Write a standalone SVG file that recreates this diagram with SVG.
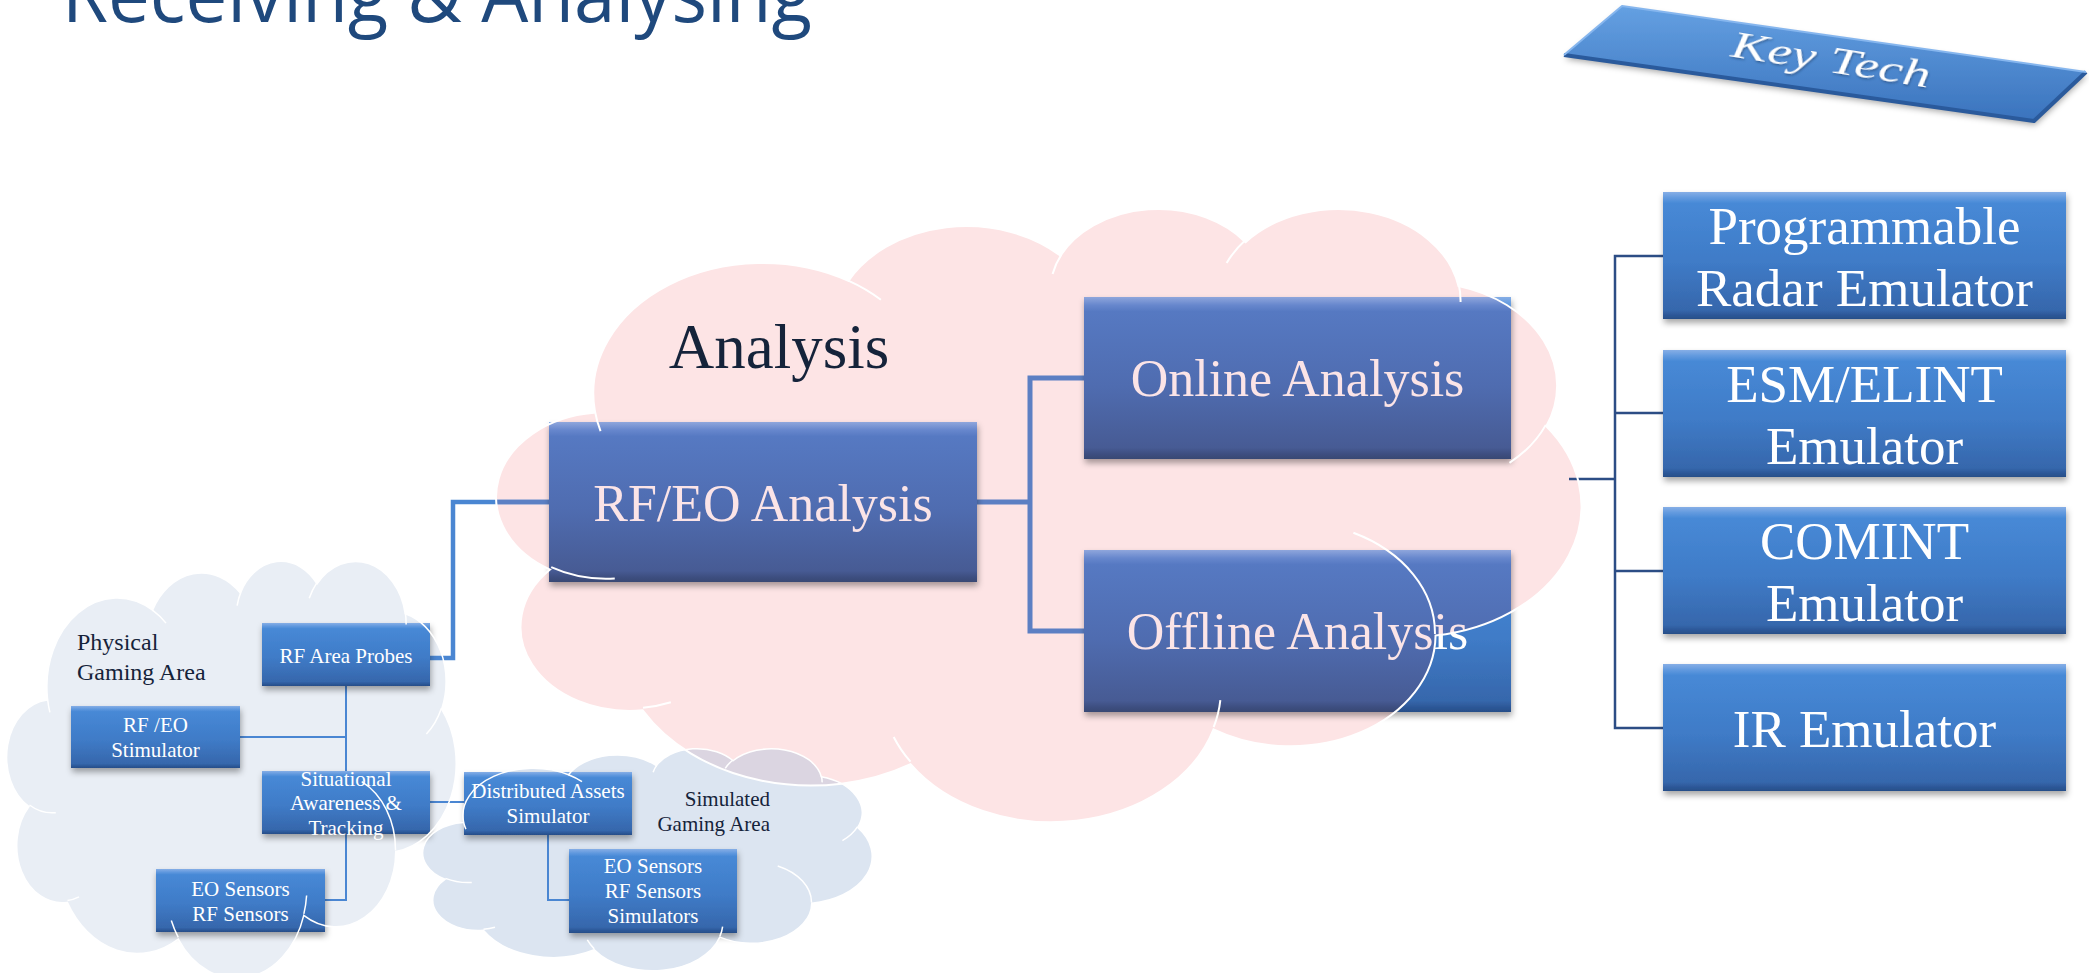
<svg xmlns="http://www.w3.org/2000/svg" xmlns:xlink="http://www.w3.org/1999/xlink" width="2089" height="973" viewBox="0 0 2089 973">
<style>
.bx{fill:url(#gBlue)}
.px{fill:url(#gPurple)}
.big{font-family:"Liberation Serif","Times New Roman",serif;font-size:52px;text-anchor:middle}
.emu{font-family:"Liberation Serif","Times New Roman",serif;font-size:53px;fill:#ffffff;text-anchor:middle}
.sm{font-family:"Liberation Serif","Times New Roman",serif;font-size:21px;fill:#ffffff;text-anchor:middle}
.lbl{font-family:"Liberation Serif","Times New Roman",serif;fill:#15233a}
.w{fill:#ffffff}
.p{fill:#fbe4e7}
.wl{fill:none;stroke:#ffffff}
.cn{fill:none;stroke-linejoin:miter}
</style>
<defs>
<linearGradient id="gBlue" x1="0" y1="0" x2="0" y2="1">
<stop offset="0" stop-color="#86aee6"/>
<stop offset="0.05" stop-color="#5f98de"/>
<stop offset="0.09" stop-color="#4789d6"/>
<stop offset="0.55" stop-color="#3f7bc7"/>
<stop offset="0.93" stop-color="#3667ac"/>
<stop offset="0.97" stop-color="#2c5797"/>
<stop offset="1" stop-color="#274e88"/>
</linearGradient>
<linearGradient id="gPurple" x1="0" y1="0" x2="0" y2="1">
<stop offset="0" stop-color="#8fa6dc"/>
<stop offset="0.05" stop-color="#6787cd"/>
<stop offset="0.09" stop-color="#5679c2"/>
<stop offset="0.55" stop-color="#4f6cb0"/>
<stop offset="0.93" stop-color="#475b94"/>
<stop offset="0.97" stop-color="#3d4e80"/>
<stop offset="1" stop-color="#384873"/>
</linearGradient>
<linearGradient id="gBanner" x1="0" y1="0" x2="0" y2="1">
<stop offset="0" stop-color="#64a0e2"/>
<stop offset="1" stop-color="#3a73bd"/>
</linearGradient>
<filter id="sh" x="-10%" y="-10%" width="125%" height="140%">
<feDropShadow dx="1" dy="4" stdDeviation="3" flood-color="#000000" flood-opacity="0.35"/>
</filter>
<filter id="tsh" x="-10%" y="-30%" width="120%" height="160%">
<feDropShadow dx="1" dy="2" stdDeviation="1.2" flood-color="#1a3a66" flood-opacity="0.6"/>
</filter>
<path id="cloudPath" vector-effect="non-scaling-stroke" d="M3900,14370 A6753,9190 0 0 1 14005,5202 A5333,7267 0 0 1 22455,3431 A4365,5945 0 0 1 29832,2480 A4857,6595 0 0 1 38317,5575 A5333,7273 0 0 1 41817,15458 A6775,9220 0 0 1 37403,30201 A5785,7867 0 0 1 28555,36812 A6752,9215 0 0 1 16481,39266 A7720,10543 0 0 1 5805,35472 A4360,5918 0 0 1 2114,25550 A4345,5945 0 0 1 3864,14506 Z"/>
<path id="cloudInner" vector-effect="non-scaling-stroke" d="M4693,26177 A4345,5945 0 0 1 2160,25380 M6928,34899 A4360,5918 0 0 1 5820,35281 M16478,39090 A6752,9215 0 0 1 15809,37347 M28827,34751 A6752,9215 0 0 1 28560,36660 M34129,22954 A5785,7867 0 0 1 37380,30090 M41798,15354 A5333,7273 0 0 1 40350,18030 M38324,5426 A4857,6595 0 0 1 38400,6690 M29078,3952 A4857,6595 0 0 1 29820,2341 M22141,4720 A4365,5945 0 0 1 22500,3330 M14000,5192 A6753,9190 0 0 1 15298,6538 M4127,15789 A6753,9190 0 0 1 3900,14370"/>
<clipPath id="pinkClip">
<use href="#cloudPath" transform="translate(497,207) scale(0.0250926,0.0141898)"/>
</clipPath>
</defs>

<rect x="0" y="0" width="2089" height="973" fill="#ffffff"/>

<g id="clouds">
<use id="cloud-analysis" href="#cloudPath" transform="translate(497,207) scale(0.0250926,0.0141898)" fill="#fde4e5"/>
<use id="cloud-physical" href="#cloudPath" transform="translate(7,560) scale(0.0103935,0.0096528)" fill="#e9eef5"/>
<use id="cloud-simulated" href="#cloudPath" transform="translate(423,748) scale(0.0103935,0.0051389)" fill="#a8bedc" fill-opacity="0.4"/>
</g>

<g id="connectors">
<path class="cn" d="M346,686 V900 H325 M240,737 H346 M430,802 H464 M548,835 V900 H569" stroke="#4a86d2" stroke-width="2"/>
<path class="cn" d="M430,658 H453 V502 H549" stroke="#4a86d2" stroke-width="4.5"/>
<path class="cn" d="M430,658 H453 V502 H549" stroke="#5c80c4" stroke-width="4.5" clip-path="url(#pinkClip)"/>
<path class="cn" d="M977,502 H1030 M1084,378 H1030 V631 H1084" stroke="#5c7fc3" stroke-width="5"/>
<path class="cn" d="M1569,479 H1615 M1663,256 H1615 V728 H1663 M1615,413 H1663 M1615,571 H1663" stroke="#2c4d85" stroke-width="2.5"/>
</g>

<g id="node-rfeo">
<rect class="bx" x="549" y="422" width="428" height="160" filter="url(#sh)"/>
<text class="big w" x="763" y="521">RF/EO Analysis</text>
<g clip-path="url(#pinkClip)">
<rect class="px" x="549" y="422" width="428" height="160"/>
<text class="big p" x="763" y="521">RF/EO Analysis</text>
</g>
</g>
<g id="node-online">
<rect class="bx" x="1084" y="297" width="427" height="162" filter="url(#sh)"/>
<text class="big w" x="1297.5" y="396">Online Analysis</text>
<g clip-path="url(#pinkClip)">
<rect class="px" x="1084" y="297" width="427" height="162"/>
<text class="big p" x="1297.5" y="396">Online Analysis</text>
</g>
</g>
<g id="node-offline">
<rect class="bx" x="1084" y="550" width="427" height="162" filter="url(#sh)"/>
<text class="big w" x="1297.5" y="649">Offline Analysis</text>
<g clip-path="url(#pinkClip)">
<rect class="px" x="1084" y="550" width="427" height="162"/>
<text class="big p" x="1297.5" y="649">Offline Analysis</text>
</g>
</g>

<g id="node-radar">
<rect class="bx" x="1663" y="192" width="403" height="127" filter="url(#sh)"/>
<text class="emu" x="1864.5" y="244">Programmable</text>
<text class="emu" x="1864.5" y="306">Radar Emulator</text>
</g>
<g id="node-esm">
<rect class="bx" x="1663" y="350" width="403" height="127" filter="url(#sh)"/>
<text class="emu" x="1864.5" y="402">ESM/ELINT</text>
<text class="emu" x="1864.5" y="464">Emulator</text>
</g>
<g id="node-comint">
<rect class="bx" x="1663" y="507" width="403" height="127" filter="url(#sh)"/>
<text class="emu" x="1864.5" y="559">COMINT</text>
<text class="emu" x="1864.5" y="621">Emulator</text>
</g>
<g id="node-ir">
<rect class="bx" x="1663" y="664" width="403" height="127" filter="url(#sh)"/>
<text class="emu" x="1864.5" y="747">IR Emulator</text>
</g>

<g id="node-probes">
<rect class="bx" x="262" y="623" width="168" height="63" filter="url(#sh)"/>
<text class="sm" x="346" y="663">RF Area Probes</text>
</g>
<g id="node-stimulator">
<rect class="bx" x="71" y="706" width="169" height="62" filter="url(#sh)"/>
<text class="sm" x="155.5" y="732">RF /EO</text>
<text class="sm" x="155.5" y="757">Stimulator</text>
</g>
<g id="node-sa">
<rect class="bx" x="262" y="771" width="168" height="63" filter="url(#sh)"/>
<text class="sm" x="346" y="786">Situational</text>
<text class="sm" x="346" y="810">Awareness &amp;</text>
<text class="sm" x="346" y="835">Tracking</text>
</g>
<g id="node-sensors">
<rect class="bx" x="156" y="869" width="169" height="63" filter="url(#sh)"/>
<text class="sm" x="240.5" y="896">EO Sensors</text>
<text class="sm" x="240.5" y="921">RF Sensors</text>
</g>
<g id="node-distributed">
<rect class="bx" x="464" y="772" width="168" height="63" filter="url(#sh)"/>
<text class="sm" x="548" y="798">Distributed Assets</text>
<text class="sm" x="548" y="823">Simulator</text>
</g>
<g id="node-simulators">
<rect class="bx" x="569" y="849" width="168" height="84" filter="url(#sh)"/>
<text class="sm" x="653" y="873">EO Sensors</text>
<text class="sm" x="653" y="898">RF Sensors</text>
<text class="sm" x="653" y="923">Simulators</text>
</g>

<g id="cloud-lines">
<use href="#cloudPath" class="wl" stroke-width="2" transform="translate(497,207) scale(0.0250926,0.0141898)"/>
<use href="#cloudInner" class="wl" stroke-width="2" transform="translate(497,207) scale(0.0250926,0.0141898)"/>
<use href="#cloudPath" class="wl" stroke-width="1.5" transform="translate(7,560) scale(0.0103935,0.0096528)"/>
<use href="#cloudInner" class="wl" stroke-width="1.5" transform="translate(7,560) scale(0.0103935,0.0096528)"/>
<use href="#cloudPath" class="wl" stroke-width="1.5" transform="translate(423,748) scale(0.0103935,0.0051389)"/>
<use href="#cloudInner" class="wl" stroke-width="1.5" transform="translate(423,748) scale(0.0103935,0.0051389)"/>
</g>

<g id="labels">
<text class="lbl" x="779" y="368" font-size="63" fill="#0e1b36" text-anchor="middle">Analysis</text>
<text class="lbl" x="77" y="650" font-size="24">Physical</text>
<text class="lbl" x="77" y="680" font-size="24">Gaming Area</text>
<text class="lbl" x="770" y="806" font-size="21" text-anchor="end">Simulated</text>
<text class="lbl" x="770" y="831" font-size="21" text-anchor="end">Gaming Area</text>
</g>

<g id="title">
<text x="62" y="22" font-family="'Open Sans','Liberation Sans',sans-serif" font-size="77" fill="#1f497d" textLength="750" lengthAdjust="spacingAndGlyphs">Receiving &amp; Analysing</text>
</g>

<g id="node-keytech">
<polygon points="1564,55 1622,6 2086,72 2034,121" fill="url(#gBanner)" filter="url(#sh)"/>
<path d="M1564,55 L2034,121 L2086,72" fill="none" stroke="#2a5a9c" stroke-width="4" stroke-linejoin="round"/>
<path d="M1564,55 L1622,6 L2086,72" fill="none" stroke="#86b6ee" stroke-width="2" stroke-linejoin="round"/>
<text transform="translate(1829,72) rotate(9) scale(1,0.68)" font-family="'Liberation Serif','Times New Roman',serif" font-style="italic" font-size="55" fill="#ffffff" text-anchor="middle" filter="url(#tsh)">Key Tech</text>
</g>
</svg>
